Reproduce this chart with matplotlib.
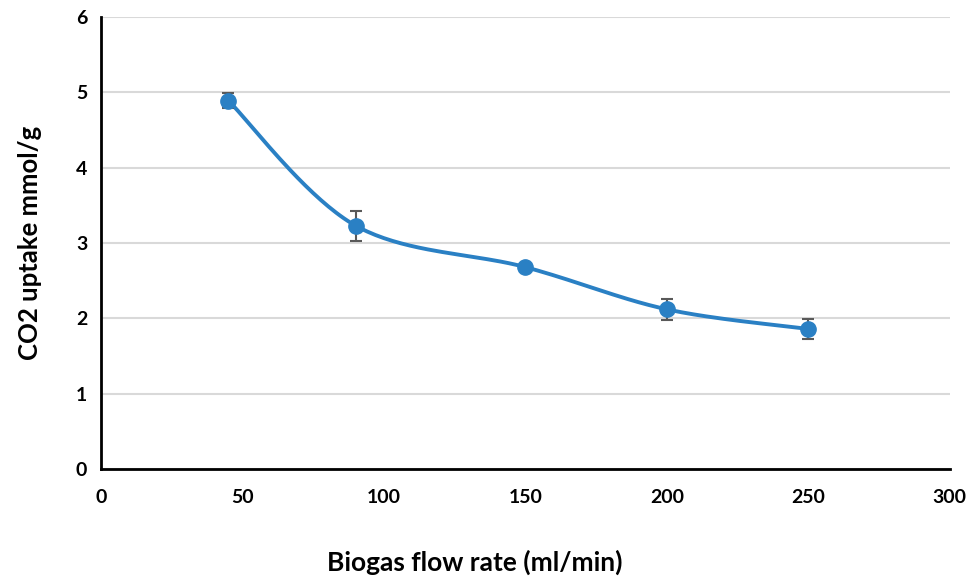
import numpy as np
import matplotlib.pyplot as plt

plt.rcParams['font.family'] = ['Lato', 'DejaVu Sans']
plt.rcParams['font.weight'] = 'bold'

flow = [45, 90, 150, 200, 250]
uptake = [4.89, 3.23, 2.68, 2.12, 1.86]
err = [0.10, 0.20, 0.03, 0.14, 0.13]
xticks = [0, 50, 100, 150, 200, 250, 300]
yticks = [0, 1, 2, 3, 4, 5, 6]

fig = plt.figure(figsize=(9.75, 5.82), dpi=100)
ax = fig.add_axes([0.1036, 0.194, 0.8704, 0.777])
ax.set_xlim(0, 300)
ax.set_ylim(0, 6)

# smoothed line like Excel (Catmull-Rom through Bezier), done in screen-ish units
sx, sy = 849 / 300, 452 / 6
P = np.column_stack([np.array(flow) * sx, np.array(uptake) * sy])
Pe = np.vstack([P[0], P, P[-1]])
t = np.linspace(0, 1, 40)[:, None]
curve = []
for i in range(len(P) - 1):
    p0, p1, p2, p3 = Pe[i], Pe[i + 1], Pe[i + 2], Pe[i + 3]
    c1 = p1 + (p2 - p0) / 6
    c2 = p2 - (p3 - p1) / 6
    seg = ((1 - t) ** 3) * p1 + 3 * ((1 - t) ** 2) * t * c1 + 3 * (1 - t) * t ** 2 * c2 + t ** 3 * p2
    curve.append(seg)
curve = np.vstack(curve)
ax.plot(curve[:, 0] / sx, curve[:, 1] / sy, color='#2A80C4', lw=2.8, zorder=3)

ax.errorbar(flow, uptake, yerr=err, fmt='none', ecolor='#595959', elinewidth=1.5,
            capsize=4.5, capthick=1.5, zorder=4)
ax.plot(flow, uptake, 'o', color='#2A80C4', markersize=11, zorder=5)

ax.set_xticks(xticks)
ax.set_yticks(yticks)
ax.tick_params(length=0, labelsize=14, pad=14)
ax.tick_params(axis='y', pad=10)
for lab in ax.get_xticklabels() + ax.get_yticklabels():
    lab.set_fontweight('bold')
ax.grid(axis='y', color='#D9D9D9', lw=1.5)
ax.set_axisbelow(True)
for s in ['top', 'right']:
    ax.spines[s].set_visible(False)
for s in ['left', 'bottom']:
    ax.spines[s].set_linewidth(2)
    ax.spines[s].set_color('black')

ax.set_xlabel('Biogas flow rate (ml/min)', fontsize=19, fontweight='bold')
ax.xaxis.set_label_coords(0.44, -0.178)
ax.set_ylabel('CO2 uptake mmol/g', fontsize=18.5, fontweight='bold', labelpad=24)

fig.savefig('out.png', dpi=100)
